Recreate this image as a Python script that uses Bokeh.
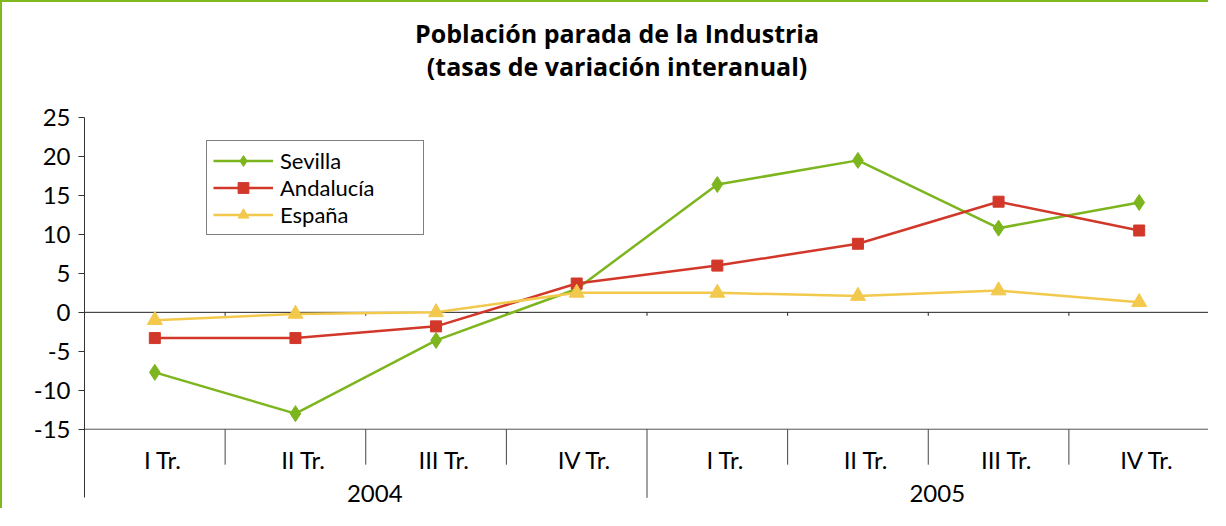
from bokeh.plotting import figure
from bokeh.models import Range1d, FixedTicker, Legend, LegendItem
from bokeh.core.properties import value
from bokeh.embed import file_html
from bokeh.resources import INLINE

# ---- data ----
quarters = ["I Tr.", "II Tr.", "III Tr.", "IV Tr.", "I Tr.", "II Tr.", "III Tr.", "IV Tr."]
years = ["2004", "2005"]
sevilla = [-7.7, -13.0, -3.6, 3.0, 16.4, 19.5, 10.8, 14.1]
andalucia = [-3.3, -3.3, -1.8, 3.7, 6.0, 8.8, 14.2, 10.5]
espana = [-1.0, -0.2, 0.0, 2.5, 2.5, 2.1, 2.8, 1.3]
series_names = ["Sevilla", "Andalucía", "España"]
y_ticks = [-15, -10, -5, 0, 5, 10, 15, 20, 25]
y_tick_labels = ["-15", "-10", "-5", "0", "5", "10", "15", "20", "25"]
title_lines = ["Población parada de la Industria", "(tasas de variación interanual)"]

# ---- styles ----
FONT = "Lato"
TITLE_FONT = "Open Sans"
GREEN = "#7DB51E"
RED = "#D2382A"
YELLOW = "#F2C94C"
FRAME_GREEN = "#80B91E"

n = len(quarters)
xs = [i + 0.5 for i in range(n)]
per_year = n // len(years)

p = figure(width=1208, height=508,
           x_range=Range1d(0, n), y_range=Range1d(-25.43, 39.76),
           output_backend="svg", toolbar_location=None,
           x_axis_location=None,
           min_border_left=82, min_border_right=1,
           min_border_top=0, min_border_bottom=0)
p.styles = {"border-left": f"2px solid {FRAME_GREEN}",
            "border-top": f"2px solid {FRAME_GREEN}"}
p.grid.visible = False
p.outline_line_color = None
p.background_fill_color = "white"
p.border_fill_color = "white"

ax = p.yaxis[0]
ax.ticker = FixedTicker(ticks=y_ticks)
ax.major_label_overrides = {t: l for t, l in zip(y_ticks, y_tick_labels)}
ax.bounds = (-23.8, 25)
ax.axis_line_color = "#333333"
ax.axis_line_width = 1
ax.major_tick_line_color = "#333333"
ax.major_tick_in = 0
ax.major_tick_out = 6
ax.minor_tick_in = 0
ax.minor_tick_out = 0
ax.major_label_standoff = 8
ax.major_label_text_font = FONT
ax.major_label_text_font_size = "24px"
ax.major_label_text_color = "black"

# zero line with small ticks at category boundaries
p.segment(x0=[0], y0=[0], x1=[n], y1=[0], line_color="#222222", line_width=1)
bounds_all = list(range(1, n + 1))
p.segment(x0=bounds_all, y0=[0] * n, x1=bounds_all, y1=[-0.45] * n,
          line_color="#222222", line_width=1)

# bottom category axis line and separators
p.segment(x0=[0], y0=[-15], x1=[n], y1=[-15], line_color="#555555", line_width=1)
q_bounds = [i for i in range(1, n) if i % per_year != 0]
p.segment(x0=q_bounds, y0=[-15] * len(q_bounds), x1=q_bounds, y1=[-19.55] * len(q_bounds),
          line_color="#444444", line_width=1)
y_bounds = [i * per_year for i in range(1, len(years) + 1)]
p.segment(x0=y_bounds, y0=[-15] * len(y_bounds), x1=y_bounds, y1=[-23.8] * len(y_bounds),
          line_color="#444444", line_width=1)

# category labels
p.text(x=xs, y=[-18.89] * n, text=quarters, text_font=value(FONT),
       text_font_size="24px", text_align="center", text_baseline="alphabetic",
       text_color="black", x_offset=8)
year_x = [i * per_year + per_year / 2 for i in range(len(years))]
p.text(x=year_x, y=[-23.3] * len(years), text=years, text_font=value(FONT),
       text_font_size="24px", text_align="center", text_baseline="alphabetic",
       text_color="black", x_offset=9)

# title
p.text(x=[3.787, 3.787], y=[35.9, 31.63], text=title_lines, text_font=value(TITLE_FONT),
       text_font_size="25px", text_font_style="bold", text_align="center",
       text_baseline="alphabetic", text_color="black")

# series
items = []
specs = [(sevilla, GREEN, "diamond", 16),
         (andalucia, RED, "square", 11),
         (espana, YELLOW, "triangle", 15)]
for name, (vals, col, mk, sz) in zip(series_names, specs):
    ln = p.line(x=xs, y=vals, line_color=col, line_width=2.5)
    sc = p.scatter(x=xs, y=vals, marker=mk, size=sz,
                   fill_color=col, line_color=col)
    items.append(LegendItem(label=name, renderers=[ln, sc]))

legend = Legend(items=items, location=(122, 275))
legend.border_line_color = "black"
legend.border_line_width = 1
legend.background_fill_color = "white"
legend.background_fill_alpha = 1
legend.padding = 6
legend.margin = 0
legend.spacing = 0
legend.glyph_width = 60
legend.glyph_height = 27
legend.label_height = 27
legend.label_width = 137
legend.label_standoff = 7
legend.label_text_font = FONT
legend.label_text_font_size = "22px"
legend.label_text_color = "black"
p.add_layout(legend)

open("out.html", "w").write(file_html(p, INLINE))
